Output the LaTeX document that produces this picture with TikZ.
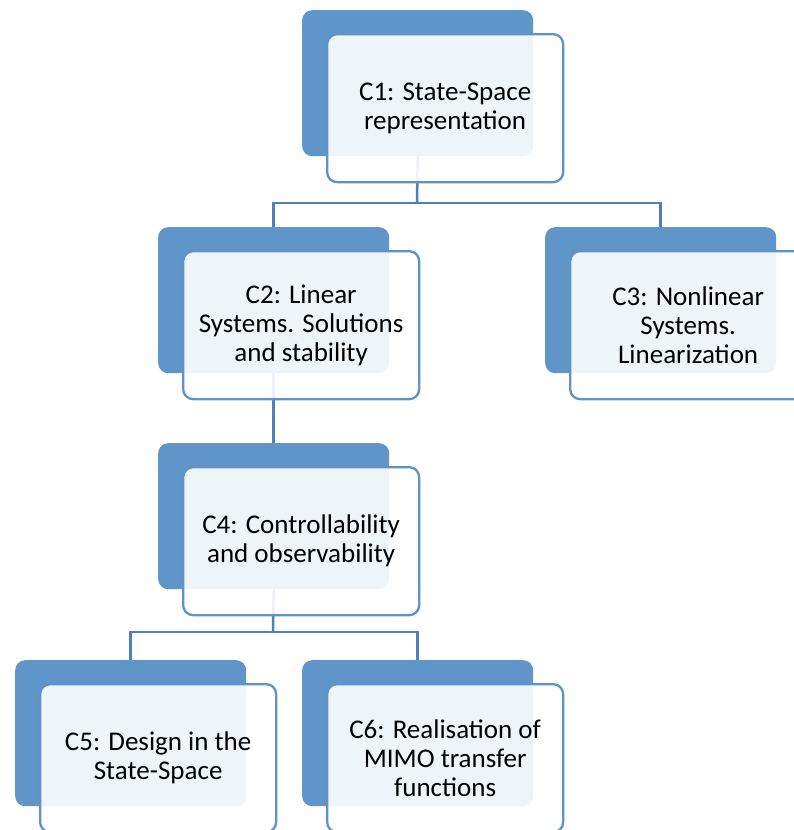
\documentclass[tikz,border=0pt]{standalone}
\usepackage{fontspec}
\setmainfont{Carlito}
\definecolor{backblue}{HTML}{5F95C9}
\definecolor{edgeblue}{HTML}{5F93C7}
\definecolor{lineblue}{HTML}{4E80BC}
\begin{document}
\begin{tikzpicture}[x=1pt,y=-1pt,
  back/.style={rounded corners=10pt, fill=backblue, minimum width=231pt,
    minimum height=146pt, inner sep=0pt, anchor=north west},
  front/.style={rounded corners=10pt, draw=edgeblue, line width=2.3pt,
    fill=white, fill opacity=0.9, text opacity=1, minimum width=236pt,
    minimum height=148pt, inner sep=0pt, anchor=north west, align=center,
    font=\fontsize{27}{28.8}\selectfont, text=black},
  link/.style={draw=lineblue, line width=2.5pt}]

\fill[white] (0,0) rectangle (794,830);
\useasboundingbox (0,0) rectangle (794,830);

% rear tiles
\node[back] (c1b) at (302,10) {};
\node[back] (c2b) at (158,227) {};
\node[back] (c3b) at (545,227) {};
\node[back] (c4b) at (158,443) {};
\node[back] (c5b) at (15,660) {};
\node[back] (c6b) at (302,660) {};

% hierarchy connectors
\coordinate (j1) at (417,203);
\coordinate (j2) at (273,632);
\draw[link] (c1b.south) -- (j1);
\draw[link] (c2b.north) |- (j1) -| (c3b.north);
\draw[link] (c2b.south) -- (c4b.north);
\draw[link] (c4b.south) -- (j2);
\draw[link] (c5b.north) |- (j2) -| (c6b.north);

% front tiles with labels
\node[front] (c1) at (326,33) {C1: State-Space\\representation};
\node[front] (c2) at (182,250) {C2: Linear\\Systems. Solutions\\and stability};
\node[front] (c3) at (569,250) {C3: Nonlinear\\Systems.\\Linearization};
\node[front] (c4) at (182,466) {C4: Controllability\\and observability};
\node[front] (c5) at (39,683) {C5: Design in the\\State-Space};
\node[front] (c6) at (326,683) {C6: Realisation of\\MIMO transfer\\functions};
\end{tikzpicture}
\end{document}
